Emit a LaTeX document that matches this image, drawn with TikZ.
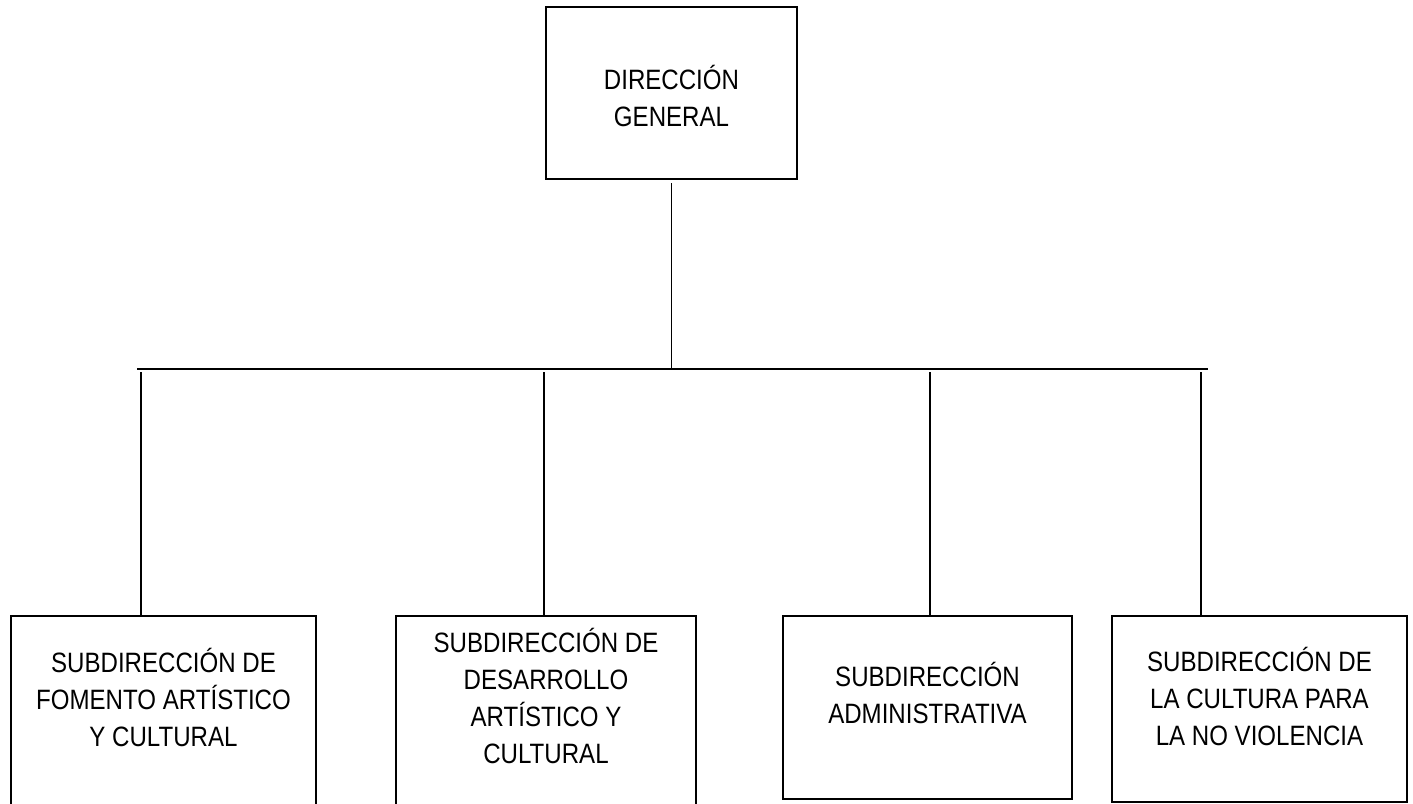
\documentclass[tikz,border=0pt]{standalone}
\usepackage{fontspec}
\setmainfont{Liberation Sans}[FakeStretch=0.86]
\usepackage{tikz}

\newcommand{\boxlines}[2]{\raisebox{#1}[0pt][0pt]{\begin{tabular}{@{}c@{}}#2\end{tabular}}}

\begin{document}
\begin{tikzpicture}[
  x=0.5pt, y=-0.5pt,
  every node/.style={draw, rectangle, line width=1pt, inner sep=0pt,
    font=\fontsize{14}{18.5}\selectfont},
  link/.style={line width=0.8pt}
]
\useasboundingbox (0,0) rectangle (1413,803);

% Level 0
\node (dg) [minimum width=125.5pt, minimum height=86pt] at (671.5,93)
  {\boxlines{-7.55pt}{DIRECCIÓN\\GENERAL}};

% Level 1
\node (s1) [minimum width=152.5pt, minimum height=107pt] at (163.5,723)
  {\boxlines{6.7pt}{SUBDIRECCIÓN DE\\FOMENTO ARTÍSTICO\\Y CULTURAL}};
\node (s2) [minimum width=150pt, minimum height=107pt] at (546,723)
  {\boxlines{7.45pt}{SUBDIRECCIÓN DE\\DESARROLLO\\ARTÍSTICO Y\\CULTURAL}};
\node (s3) [minimum width=144.5pt, minimum height=91.5pt] at (927.5,707.5)
  {\boxlines{1.2pt}{SUBDIRECCIÓN\\ADMINISTRATIVA}};
\node (s4) [minimum width=147.5pt, minimum height=93pt] at (1259.5,709)
  {\boxlines{0.45pt}{SUBDIRECCIÓN DE\\LA CULTURA PARA\\LA NO VIOLENCIA}};

% Bar
\coordinate (barL) at (137,369);
\coordinate (barR) at (1208,369);
\coordinate (hub)  at (670,370);
\coordinate (f1) at (141,372);
\coordinate (f2) at (544,372);
\coordinate (f3) at (930,372);
\coordinate (f4) at (1201,372);

% Edges
\draw[link, shorten <=1.5pt] (dg.south) -- (dg.south |- hub);
\draw[link] (barL) -- (barR);

\draw[link] (f1) -- (f1 |- s1.north);
\draw[link] (f2) -- (f2 |- s2.north);
\draw[link] (f3) -- (f3 |- s3.north);
\draw[link] (f4) -- (f4 |- s4.north);

\end{tikzpicture}
\end{document}
